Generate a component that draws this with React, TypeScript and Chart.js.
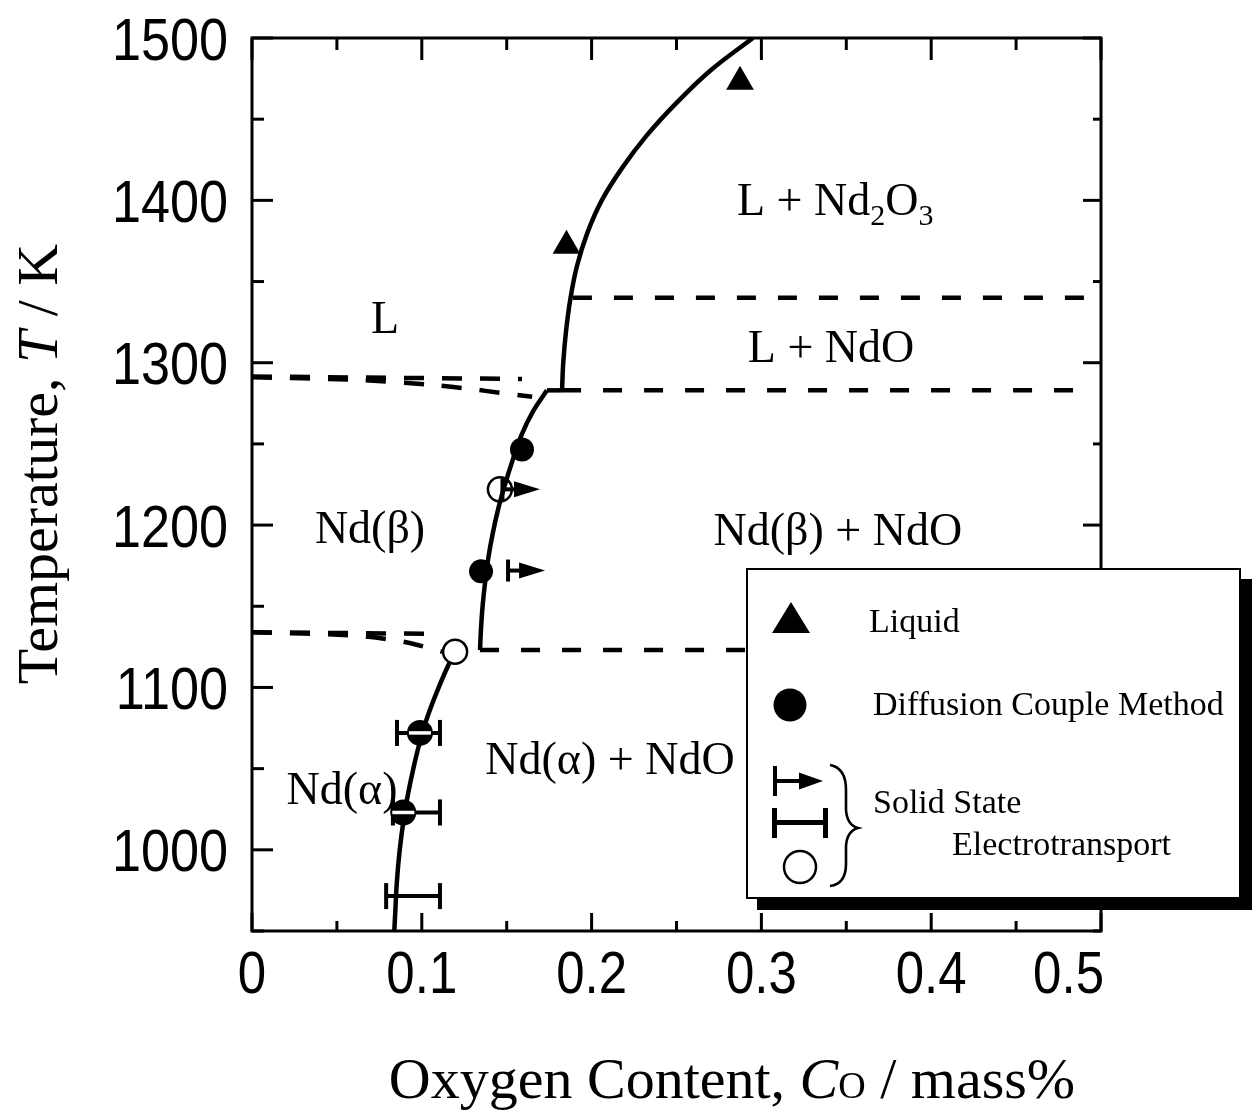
import React, { useEffect, useRef } from "react";
import { Chart, registerables } from "chart.js";

Chart.register(...registerables);

// Axis ticks
const xMajorTicks = [0, 0.1, 0.2, 0.3, 0.4, 0.5];
const xMinorTicks = [0.05, 0.15, 0.25, 0.35, 0.45];
const yMajorTicks = [1000, 1100, 1200, 1300, 1400, 1500];
const yMinorTicks = [950, 1050, 1150, 1250, 1350, 1450];

// Solid phase boundaries: oxygen content (mass%) vs temperature (K)
const liquidusX = [0.295, 0.27, 0.25, 0.2325, 0.218, 0.206, 0.1975, 0.1915, 0.1876, 0.185, 0.1833, 0.1826];
const liquidusT = [1500, 1480, 1460, 1440, 1420, 1400, 1380, 1360, 1340, 1320, 1300, 1283];
const stepX = [0.1826, 0.1737];
const stepT = [1283, 1283];
const betaSolvusX = [0.1737, 0.1655, 0.1585, 0.1535, 0.149, 0.145, 0.1418, 0.1392, 0.1373, 0.1358, 0.1348, 0.1343];
const betaSolvusT = [1283, 1270, 1255, 1240, 1225, 1210, 1195, 1180, 1165, 1150, 1135, 1123];
const alphaSolvusX = [0.1196, 0.114, 0.108, 0.1027, 0.0985, 0.095, 0.092, 0.0895, 0.087, 0.0853, 0.0843, 0.0838];
const alphaSolvusT = [1122, 1110, 1095, 1080, 1065, 1050, 1035, 1020, 1000, 980, 960, 950];

// Dashed boundaries
const lBetaUpperX = [0, 0.159];
const lBetaUpperT = [1291.5, 1290];
const lBetaLowerX = [0, 0.06, 0.11, 0.165];
const lBetaLowerT = [1291, 1289.5, 1286, 1279];
const betaAlphaUpperX = [0, 0.108];
const betaAlphaUpperT = [1134, 1133];
const betaAlphaLowerX = [0, 0.06, 0.09, 0.112];
const betaAlphaLowerT = [1134, 1132, 1128, 1122];
const monotecticX = [0.189, 0.492];
const monotecticT = [1340, 1340];
const eutecticX = [0.1826, 0.492];
const eutecticT = [1283, 1283];
const eutectoidX = [0.1343, 0.492];
const eutectoidT = [1123, 1123];

// Measurements
const liquidX = [0.2874, 0.1852];
const liquidT = [1473, 1372];
const diffusionX = [0.159, 0.1349];
const diffusionT = [1246.5, 1171.5];
const openCircleX = [0.1196, 0.146];
const openCircleT = [1122, 1222];
const errorBarT = [1072, 1023, 971.5];
const errorBarLow = [0.0854, 0.083, 0.079];
const errorBarHigh = [0.1107, 0.1107, 0.1107];
const errorBarMid = [0.0989, 0.0891, null];
const arrowT = [1222, 1172];
const arrowFrom = [0.1475, 0.1508];
const arrowTo = [0.1696, 0.1726];

// Phase-field labels (left edge / centre in data units, baseline temperature)
const regionLabels = [
  { runs: [["L + Nd", 0], ["2", 1], ["O", 0], ["3", 1]], x: 0.2856, t: 1391, align: "left" },
  { runs: [["L", 0]], x: 0.0783, t: 1318.5, align: "center" },
  { runs: [["L + NdO", 0]], x: 0.341, t: 1300.5, align: "center" },
  { runs: [["Nd(β)", 0]], x: 0.0695, t: 1189, align: "center" },
  { runs: [["Nd(β) + NdO", 0]], x: 0.345, t: 1188, align: "center" },
  { runs: [["Nd(α) + NdO", 0]], x: 0.2108, t: 1046.5, align: "center" },
  { runs: [["Nd(α)", 0]], x: 0.053, t: 1028, align: "center" },
];

const SERIF = '"Liberation Serif", "Times New Roman", serif';
const SANS = '"Liberation Sans", Arial, sans-serif';

type Run = { text: string; font: string; dy?: number };

function drawRuns(ctx: CanvasRenderingContext2D, runs: Run[], x: number, y: number, align: string) {
  let total = 0;
  for (const r of runs) {
    ctx.font = r.font;
    total += ctx.measureText(r.text).width;
  }
  let cx = align === "center" ? x - total / 2 : align === "right" ? x - total : x;
  ctx.textAlign = "left";
  ctx.textBaseline = "alphabetic";
  for (const r of runs) {
    ctx.font = r.font;
    ctx.fillText(r.text, cx, y + (r.dy || 0));
    cx += ctx.measureText(r.text).width;
  }
}

function drawSqueezed(ctx: CanvasRenderingContext2D, text: string, x: number, y: number, align: CanvasTextAlign, squeeze: number) {
  ctx.save();
  ctx.translate(x, y);
  ctx.scale(squeeze, 1);
  ctx.textAlign = align;
  ctx.textBaseline = "alphabetic";
  ctx.fillText(text, 0, 0);
  ctx.restore();
}

function drawArrow(ctx: CanvasRenderingContext2D, x0: number, x1: number, y: number, barH: number, headL: number, headH: number) {
  ctx.fillRect(x0 - 2, y - barH / 2, 4, barH);
  ctx.fillRect(x0, y - 2, x1 - headL - x0 + 1, 4);
  ctx.beginPath();
  ctx.moveTo(x1, y);
  ctx.lineTo(x1 - headL, y - headH / 2);
  ctx.lineTo(x1 - headL, y + headH / 2);
  ctx.closePath();
  ctx.fill();
}

const decor = {
  id: "decor",
  beforeDatasetsDraw(chart: any) {
    const { ctx, scales } = chart;
    const xs = scales.x;
    const ys = scales.y;
    ctx.save();
    ctx.strokeStyle = "#000";
    ctx.fillStyle = "#000";
    errorBarT.forEach((t, i) => {
      const py = ys.getPixelForValue(t);
      const a = xs.getPixelForValue(errorBarLow[i]);
      const b = xs.getPixelForValue(errorBarHigh[i]);
      ctx.lineWidth = 4;
      ctx.beginPath();
      ctx.moveTo(a, py);
      ctx.lineTo(b, py);
      ctx.stroke();
      ctx.fillRect(a - 2, py - 13, 4, 26);
      ctx.fillRect(b - 2, py - 13, 4, 26);
    });
    ctx.restore();
  },
  afterDatasetsDraw(chart: any) {
    const { ctx, scales } = chart;
    const xs = scales.x;
    const ys = scales.y;
    ctx.save();
    // white stripe across the error-bar circles
    ctx.strokeStyle = "#fff";
    ctx.lineWidth = 3.5;
    errorBarMid.forEach((m, i) => {
      if (m === null) return;
      const px = xs.getPixelForValue(m);
      const py = ys.getPixelForValue(errorBarT[i]);
      ctx.beginPath();
      ctx.moveTo(px - 11, py);
      ctx.lineTo(px + 11, py);
      ctx.stroke();
    });
    ctx.fillStyle = "#000";
    arrowT.forEach((t, i) => {
      const py = ys.getPixelForValue(t);
      drawArrow(ctx, xs.getPixelForValue(arrowFrom[i]), xs.getPixelForValue(arrowTo[i]), py, 22, 26, 16);
    });
    ctx.restore();
  },
  afterDraw(chart: any) {
    const { ctx, chartArea, scales } = chart;
    const xs = scales.x;
    const ys = scales.y;
    const { left, right, top, bottom } = chartArea;
    ctx.save();
    ctx.strokeStyle = "#000";
    ctx.fillStyle = "#000";

    // frame
    ctx.lineWidth = 3;
    ctx.strokeRect(left, top, right - left, bottom - top);

    // inward ticks on all four sides
    ctx.lineWidth = 3;
    const tick = (x0: number, y0: number, x1: number, y1: number) => {
      ctx.beginPath();
      ctx.moveTo(x0, y0);
      ctx.lineTo(x1, y1);
      ctx.stroke();
    };
    yMajorTicks.forEach((v) => {
      const p = ys.getPixelForValue(v);
      tick(left, p, left + 21, p);
      tick(right, p, right - 18, p);
    });
    yMinorTicks.forEach((v) => {
      const p = ys.getPixelForValue(v);
      tick(left, p, left + 12, p);
      tick(right, p, right - 8, p);
    });
    xMajorTicks.forEach((v) => {
      const p = xs.getPixelForValue(v);
      tick(p, top, p, top + 22);
      tick(p, bottom, p, bottom - 18);
    });
    xMinorTicks.forEach((v) => {
      const p = xs.getPixelForValue(v);
      tick(p, top, p, top + 12);
      tick(p, bottom, p, bottom - 10);
    });

    // tick labels
    ctx.font = `60px ${SANS}`;
    yMajorTicks.forEach((v) => {
      drawSqueezed(ctx, String(v), left - 24, ys.getPixelForValue(v) + 21.5, "right", 0.87);
    });
    xMajorTicks.forEach((v, i) => {
      const label = v === 0 ? "0" : v.toFixed(1);
      const p = xs.getPixelForValue(v);
      if (i === xMajorTicks.length - 1) drawSqueezed(ctx, label, p + 3, bottom + 62, "right", 0.85);
      else drawSqueezed(ctx, label, p, bottom + 62, "center", 0.85);
    });

    // axis titles
    const tf = `58px ${SERIF}`;
    const tfi = `italic 58px ${SERIF}`;
    drawRuns(
      ctx,
      [
        { text: "Oxygen Content, ", font: tf },
        { text: "C", font: tfi },
        { text: "O", font: `38px ${SERIF}` },
        { text: " / mass%", font: tf },
      ],
      732,
      1098,
      "center"
    );
    ctx.save();
    ctx.translate(57, 464);
    ctx.rotate(-Math.PI / 2);
    drawRuns(
      ctx,
      [
        { text: "Temperature, ", font: tf },
        { text: "T", font: tfi },
        { text: " / K", font: tf },
      ],
      0,
      0,
      "center"
    );
    ctx.restore();

    // phase-field labels
    regionLabels.forEach((lab) => {
      const runs: Run[] = lab.runs.map(([text, sub]) =>
        sub ? { text: text as string, font: `30px ${SERIF}`, dy: 10 } : { text: text as string, font: `46px ${SERIF}` }
      );
      drawRuns(ctx, runs, xs.getPixelForValue(lab.x), ys.getPixelForValue(lab.t), lab.align);
    });

    // legend box with drop shadow
    ctx.fillStyle = "#000";
    ctx.fillRect(757, 579, 495, 331);
    ctx.fillStyle = "#fff";
    ctx.fillRect(747, 569, 493, 329);
    ctx.lineWidth = 2;
    ctx.strokeStyle = "#000";
    ctx.strokeRect(747, 569, 493, 329);

    ctx.fillStyle = "#000";
    // triangle
    ctx.beginPath();
    ctx.moveTo(791, 602);
    ctx.lineTo(810, 633);
    ctx.lineTo(772, 633);
    ctx.closePath();
    ctx.fill();
    // filled circle
    ctx.beginPath();
    ctx.arc(790, 705, 16.5, 0, Math.PI * 2);
    ctx.fill();
    // arrow
    drawArrow(ctx, 775, 823, 781, 30, 24, 17);
    // error bar
    ctx.fillRect(772, 808, 5, 30);
    ctx.fillRect(823, 808, 5, 30);
    ctx.fillRect(772, 820, 56, 5);
    // open circle
    ctx.lineWidth = 2.5;
    ctx.beginPath();
    ctx.arc(800, 867, 16, 0, Math.PI * 2);
    ctx.stroke();
    // brace
    ctx.lineWidth = 2.6;
    ctx.beginPath();
    ctx.moveTo(830, 765);
    ctx.quadraticCurveTo(846, 768, 846, 790);
    ctx.lineTo(846, 810);
    ctx.quadraticCurveTo(847, 825, 858, 828);
    ctx.quadraticCurveTo(847, 831, 846, 846);
    ctx.lineTo(846, 864);
    ctx.quadraticCurveTo(846, 884, 830, 886);
    ctx.stroke();

    const lf = `34px ${SERIF}`;
    drawRuns(ctx, [{ text: "Liquid", font: lf }], 869, 632, "left");
    drawRuns(ctx, [{ text: "Diffusion Couple Method", font: lf }], 873, 715, "left");
    drawRuns(ctx, [{ text: "Solid State", font: lf }], 873, 813, "left");
    drawRuns(ctx, [{ text: "Electrotransport", font: lf }], 952, 855, "left");

    ctx.restore();
  },
};

export default function App() {
  const canvasRef = useRef<HTMLCanvasElement>(null);

  useEffect(() => {
    const canvas = canvasRef.current;
    if (!canvas) return;
    const pts = (xs: number[], ts: number[]) => xs.map((x, i) => ({ x, y: ts[i] }));
    const curve = (xs: number[], ts: number[], extra: any) => ({
      data: pts(xs, ts),
      showLine: true,
      borderColor: "#000",
      borderWidth: 4.5,
      pointRadius: 0,
      pointHoverRadius: 0,
      fill: false,
      borderCapStyle: "butt",
      borderJoinStyle: "round",
      ...extra,
    });
    const dashed = (xs: number[], ts: number[], dash: number[], tension = 0) =>
      curve(xs, ts, { borderDash: dash, borderWidth: 4.5, tension, order: 10 });

    const chart = new Chart(canvas, {
      type: "scatter",
      data: {
        datasets: [
          dashed(lBetaUpperX, lBetaUpperT, [20, 18]),
          dashed(lBetaLowerX, lBetaLowerT, [20, 18], 0.3),
          dashed(betaAlphaUpperX, betaAlphaUpperT, [20, 18]),
          dashed(betaAlphaLowerX, betaAlphaLowerT, [20, 18], 0.3),
          dashed(monotecticX, monotecticT, [19, 22]),
          dashed(eutecticX, eutecticT, [19, 22]),
          dashed(eutectoidX, eutectoidT, [19, 22]),
          {
            data: pts(openCircleX.slice(1), openCircleT.slice(1)),
            pointStyle: "circle",
            pointRadius: 12,
            backgroundColor: "#fff",
            borderColor: "#000",
            borderWidth: 2.5,
            order: 8,
          },
          curve(liquidusX, liquidusT, { tension: 0.4, order: 5 }),
          curve(stepX, stepT, { order: 5 }),
          curve(betaSolvusX, betaSolvusT, { tension: 0.4, order: 5 }),
          curve(alphaSolvusX, alphaSolvusT, { tension: 0.4, order: 5 }),
          {
            data: pts(liquidX, liquidT),
            pointStyle: "triangle",
            pointRadius: 16,
            backgroundColor: "#000",
            borderWidth: 0,
            order: 1,
          },
          {
            data: pts(diffusionX, diffusionT),
            pointStyle: "circle",
            pointRadius: 12,
            backgroundColor: "#000",
            borderWidth: 0,
            order: 1,
          },
          {
            data: pts(openCircleX.slice(0, 1), openCircleT.slice(0, 1)),
            pointStyle: "circle",
            pointRadius: 12,
            backgroundColor: "#fff",
            borderColor: "#000",
            borderWidth: 2.5,
            order: 1,
          },
          {
            data: errorBarMid
              .map((m, i) => (m === null ? null : { x: m, y: errorBarT[i] }))
              .filter((p) => p !== null),
            pointStyle: "circle",
            pointRadius: 13,
            backgroundColor: "#000",
            borderWidth: 0,
            order: 1,
          },
        ],
      },
      options: {
        responsive: false,
        animation: false,
        events: [],
        layout: { padding: { left: 252, top: 38, right: 158, bottom: 184 } },
        plugins: { legend: { display: false }, tooltip: { enabled: false } },
        scales: {
          x: { type: "linear", min: 0, max: 0.5, display: false },
          y: { type: "linear", min: 950, max: 1500, display: false },
        },
      },
      plugins: [decor],
    } as any);
    return () => chart.destroy();
  }, []);

  return (
    <div style={{ position: "fixed", left: 0, top: 0, width: 1259, height: 1115, background: "#fff" }}>
      <canvas ref={canvasRef} width={1259} height={1115} style={{ display: "block" }} />
    </div>
  );
}
